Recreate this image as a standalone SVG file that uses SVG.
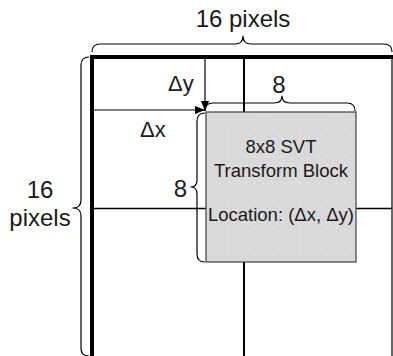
<svg xmlns="http://www.w3.org/2000/svg" width="393" height="356" viewBox="0 0 393 356">
<style>
text { font-family: "Liberation Sans", Arial, sans-serif; fill: #1a1a1a; }
.big { font-size: 24px; }
.mid { font-size: 22px; }
.box { font-size: 18.5px; text-anchor: middle; }
.brace { fill: none; stroke: #000; stroke-width: 1.2; stroke-linejoin: round; }
.grid { stroke: #000; fill: none; }
</style>
<defs>
<marker id="arr" viewBox="0 0 10 10" refX="10" refY="5" markerWidth="10" markerHeight="10" markerUnits="userSpaceOnUse" orient="auto">
<path d="M0,1 L10,5 L0,9 Z" fill="#000"/>
</marker>
<pattern id="dots" width="9" height="9" patternUnits="userSpaceOnUse">
<rect width="9" height="9" fill="#d9d9d9"/>
<circle cx="3" cy="3" r="0.8" fill="#ececec"/>
</pattern>
</defs>
<rect width="393" height="356" fill="#fff"/>
<g id="grid">
<line class="grid" x1="244" y1="57" x2="244" y2="356" stroke-width="2"/>
<line class="grid" x1="92" y1="208.5" x2="392" y2="208.5" stroke-width="1.5"/>
<line class="grid" x1="392" y1="57" x2="392" y2="356" stroke-width="1.2"/>
<line class="grid" x1="90" y1="57" x2="393" y2="57" stroke-width="4"/>
<line class="grid" x1="92" y1="55" x2="92" y2="356" stroke-width="4"/>
</g>
<g id="connectors">
<line x1="205" y1="59" x2="205" y2="111" stroke="#000" stroke-width="1.2" marker-end="url(#arr)"/>
<line x1="94" y1="110" x2="205" y2="110" stroke="#000" stroke-width="1.2" marker-end="url(#arr)"/>
</g>
<g id="block">
<rect x="206" y="112" width="150" height="150" fill="url(#dots)" stroke="#404040" stroke-width="1.2"/>
<text class="box" x="281" y="153">8x8 SVT</text>
<text class="box" x="281" y="177">Transform Block</text>
<text class="box" x="281" y="221">Location: (Δx, Δy)</text>
</g>
<g id="braces">
<path class="brace" d="M92,52 Q92,44 100,44 L235,44 Q243,44 243,36 Q243,44 251,44 L384,44 Q392,44 392,52"/>
<path class="brace" d="M89,57 Q81,57 81,65 L81,200 Q81,208 73,208 Q81,208 81,216 L81,348 Q81,356 89,356"/>
<path class="brace" d="M205,111 Q205,103 213,103 L274,103 Q282,103 282,96 Q282,103 290,103 L347,103 Q355,103 355,111"/>
<path class="brace" d="M205,113 Q197,113 197,121 L197,180 Q197,187 191,187 Q197,187 197,194 L197,254 Q197,262 205,262"/>
</g>
<g id="labels">
<text class="big" x="243" y="27" text-anchor="middle">16 pixels</text>
<text class="big" x="40" y="198" text-anchor="middle">16</text>
<text class="big" x="40" y="226" text-anchor="middle">pixels</text>
<text class="big" x="279" y="93" text-anchor="middle">8</text>
<text class="big" x="187" y="197" text-anchor="end">8</text>
<text class="mid" x="168" y="91">Δy</text>
<text class="mid" x="140" y="137">Δx</text>
</g>
</svg>
